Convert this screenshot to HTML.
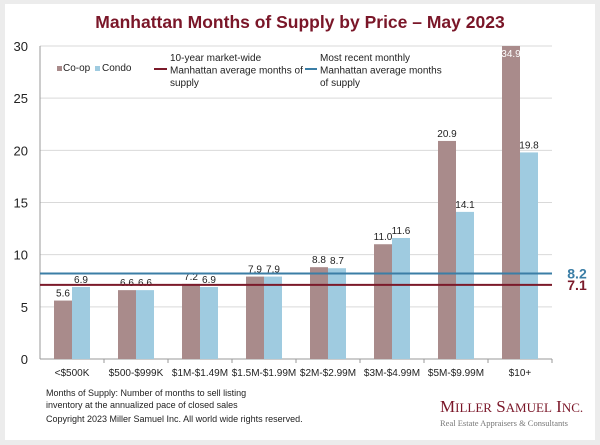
<!DOCTYPE html>
<html><head><meta charset="utf-8"><style>
body{margin:0;background:#ececec;font-family:"Liberation Sans",Arial,sans-serif}
#panel{position:absolute;left:5px;top:4px;width:590px;height:436px;background:#fff}
svg{position:absolute;left:0;top:0}
</style></head><body>
<div id="panel"></div>
<svg id="chart" width="600" height="445"></svg>
<script>
const categories=["<$500K","$500-$999K","$1M-$1.49M","$1.5M-$1.99M","$2M-$2.99M","$3M-$4.99M","$5M-$9.99M","$10+"];
const coop=[5.6,6.6,7.2,7.9,8.8,11.0,20.9,34.9];
const condo=[6.9,6.6,6.9,7.9,8.7,11.6,14.1,19.8];
const yTicks=[0,5,10,15,20,25,30];
const avg10yr=7.1;
const recent=8.2;
const NS="http://www.w3.org/2000/svg";
const svg=document.getElementById('chart');
const x0=40,x1=552,yTop=46,yBot=359,yMax=30;
const y=v=>yBot-(Math.min(v,yMax)/yMax)*(yBot-yTop);
const gw=(x1-x0)/categories.length;
const xc=i=>x0+gw*(i+0.5);
function el(t,a,txt){const e=document.createElementNS(NS,t);for(const k in a)e.setAttribute(k,a[k]);if(txt!=null)e.textContent=txt;svg.appendChild(e);return e;}
let t=el('text',{x:300,y:28,'text-anchor':'middle','font-size':17.5,'font-weight':'bold',fill:'#7a1628'},'Manhattan Months of Supply by Price – May 2023');


yTicks.forEach(v=>{
 const g=el('line',{x1:x0,x2:x1,y1:y(v),y2:y(v),stroke:'#d9d9d9','stroke-width':1});
 
 
 const l=el('text',{x:28,y:y(v)+5,'text-anchor':'end','font-size':13,fill:'#222'},v);
 
 
});
el('line',{x1:x0,x2:x0,y1:yTop,y2:yBot,stroke:'#999'});
el('line',{x1:x0,x2:x1,y1:yBot,y2:yBot,stroke:'#999'});
const bw=18;
categories.forEach((c,i)=>{
 const cx=xc(i);
 const b1=el('rect',{x:cx-bw,y:y(coop[i]),width:bw,height:yBot-y(coop[i]),fill:'#a98b8b'});
 
 
 const b2=el('rect',{x:cx,y:y(condo[i]),width:bw,height:yBot-y(condo[i]),fill:'#9fcbe0'});
 
 
 const clip=coop[i]>yMax;
 const v1=el('text',{x:cx-bw/2,y:clip?y(coop[i])+11:y(coop[i])-4,'text-anchor':'middle','font-size':10,fill:clip?'#fff':'#222'},coop[i].toFixed(1));
 
 
 const v2=el('text',{x:cx+bw/2,y:y(condo[i])-4,'text-anchor':'middle','font-size':10,fill:'#222'},condo[i].toFixed(1));
 
 
 const xl=el('text',{x:cx,y:yBot+17,'text-anchor':'middle','font-size':10,fill:'#222'},c);
 
 
 el('line',{x1:x0+gw*(i+1),x2:x0+gw*(i+1),y1:yBot,y2:yBot+4,stroke:'#999'});
});
const lr=el('line',{x1:x0,x2:x1,y1:y(avg10yr),y2:y(avg10yr),stroke:'#7b1a2a','stroke-width':2});


const lb=el('line',{x1:x0,x2:x1,y1:y(recent),y2:y(recent),stroke:'#3b7ea6','stroke-width':2});


const t1=el('text',{x:577,y:y(avg10yr)+5,'text-anchor':'middle','font-size':14,'font-weight':'bold',fill:'#7b1a2a'},avg10yr.toFixed(1));


const t2=el('text',{x:577,y:y(recent)+5,'text-anchor':'middle','font-size':14,'font-weight':'bold',fill:'#3b7ea6'},recent.toFixed(1));


</script>
<svg width="600" height="445" style="position:absolute;left:0;top:0" font-family="Liberation Sans, Arial, sans-serif">
<g font-size="10" fill="#222">
<rect x="57" y="66" width="5" height="5" fill="#a98b8b"/>
<text x="63" y="71">Co-op</text>
<rect x="95" y="66" width="5" height="5" fill="#9fcbe0"/>
<text x="102" y="71">Condo</text>
<line x1="154" x2="167" y1="69" y2="69" stroke="#7b1a2a" stroke-width="2"/>
<text x="170" y="61"><tspan x="170">10-year market-wide</tspan><tspan x="170" dy="12.5">Manhattan average months of</tspan><tspan x="170" dy="12.5">supply</tspan></text>
<line x1="305" x2="317" y1="69" y2="69" stroke="#3b7ea6" stroke-width="2"/>
<text x="320" y="61"><tspan x="320">Most recent monthly</tspan><tspan x="320" dy="12.5">Manhattan average months</tspan><tspan x="320" dy="12.5">of supply</tspan></text>
</g>
<g font-size="9" fill="#222">
<text x="46" y="396">Months of Supply: Number of months to sell listing</text>
<text x="46" y="408">inventory at the annualized pace of closed sales</text>
<text x="46" y="422">Copyright 2023 Miller Samuel Inc.  All world wide rights reserved.</text>
</g>
<text x="440" y="412" font-family="Liberation Serif, serif" font-size="17" fill="#7a1628">M<tspan font-size="13">ILLER</tspan> S<tspan font-size="13">AMUEL</tspan> I<tspan font-size="13">NC.</tspan></text>
<text x="440" y="426" font-family="Liberation Serif, serif" font-size="8.5" fill="#777">Real Estate Appraisers &amp; Consultants</text>
</svg>
</body></html>
